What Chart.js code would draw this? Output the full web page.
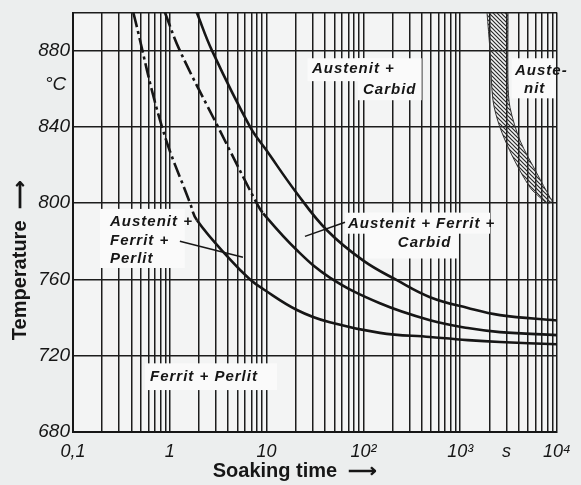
<!DOCTYPE html>
<html>
<head>
<meta charset="utf-8">
<script src="https://cdn.jsdelivr.net/npm/chart.js@4/dist/chart.umd.min.js"></script>
<style>
  body { margin: 0; background: #eceeee; }
  canvas { display: block; }
</style>
</head>
<body>
<canvas id="soakChart" width="581" height="485"></canvas>
<script>
// soaking time in s, temperature in °C
const timeA = [0.42, 0.83, 1.62, 1.91, 4.19, 6.75, 9.2, 20.6, 45, 148, 488, 1200, 2577, 10000];
const tempA = [900, 840, 800, 791, 770.5, 760, 755, 744, 737.5, 732, 729.8, 728.2, 727.2, 726];

const timeB = [0.89, 1.27, 3.15, 7.9, 9.2, 20.6, 45, 148, 488, 1200, 2577, 10000];
const tempB = [900, 880, 840, 800, 794.7, 775.3, 761, 747.5, 738.6, 734.5, 732.4, 730.8];

const timeC = [1.9, 2.73, 6.75, 10, 20.6, 42, 99, 222, 488, 1200, 2577, 10000];
const tempC = [900, 880, 840, 827.6, 805.1, 785.8, 770, 759.6, 750.7, 745, 741.3, 738.5];

// hatched austenite boundary band: left edge top->bottom, right edge bottom->top
const bandTime = [1892, 2032, 2182, 2578, 3510, 5255, 6670, 8070, 8870, 8470, 6210, 4150, 3270, 3120, 3120];
const bandTemp = [900, 880, 853.8, 839.7, 824, 808.3, 803, 799.9, 801.5, 803, 815.6, 832.9, 850.2, 862.7, 900];

const decades = [0.1, 1, 10, 100, 1000, 10000];
const decadeLabels = ['0,1', '1', '10', '10²', '10³', '10⁴'];
const minorSteps = [2, 3, 4, 5, 6, 7, 8, 9];
const yTicks = [680, 720, 760, 800, 840, 880, 900];

const xTicks = [];
decades.forEach((d, i) => {
  xTicks.push(d);
  if (i < decades.length - 1) minorSteps.forEach(m => xTicks.push(+(d * m).toPrecision(3)));
});

const zip = (xs, ys) => xs.map((x, i) => ({ x: x, y: ys[i] }));

// hatch pattern for the band
const hc = document.createElement('canvas');
hc.width = 4; hc.height = 4;
const hx = hc.getContext('2d');
hx.strokeStyle = '#2a2a2a';
hx.lineWidth = 1.2;
hx.beginPath();
hx.moveTo(-1, -1); hx.lineTo(5, 5);
hx.moveTo(3, -1); hx.lineTo(5, 1);
hx.moveTo(-1, 3); hx.lineTo(1, 5);
hx.stroke();
const hatch = hx.createPattern(hc, 'repeat');

const ink = '#161616';
const dashTop = limit => ({
  borderDash: c => (c.p0.parsed.y > limit ? [15, 4, 3, 4] : undefined)
});

// label boxes and texts, in data units (time, temp)
const boxes = [
  [0.19, 797, 1.43, 766],
  [0.555, 716, 12.8, 702],
  [26.5, 876, 227, 864],
  [87.5, 876, 400, 854],
  [3400, 876, 9700, 855],
  [64.6, 795, 2032, 784],
  [104, 795, 948, 771]
];
const texts = [
  ['Austenit +', 0.241, 790], ['Ferrit +', 0.241, 780.5], ['Perlit', 0.241, 771],
  ['Ferrit + Perlit', 0.624, 708.8],
  ['Austenit +', 29.4, 870.6], ['Carbid', 99, 859.6],
  ['Auste-', 3680, 869.5], ['nit', 4560, 860],
  ['Austenit + Ferrit +', 69.3, 789.4], ['Carbid', 227, 779]
];
const pointers = [
  [1.27, 780, 5.7, 771.6],
  [64.6, 790, 24.9, 782.6]
];

const notes = {
  id: 'notes',
  beforeDraw(chart) {
    const a = chart.chartArea, c = chart.ctx;
    c.save();
    c.fillStyle = '#f3f4f4';
    c.fillRect(a.left, a.top, a.right - a.left, a.bottom - a.top);
    c.restore();
  },
  beforeDatasetsDraw(chart) {
    const c = chart.ctx, sx = chart.scales.x, sy = chart.scales.y;
    c.save();
    c.fillStyle = '#fafafa';
    boxes.forEach(b => {
      const x1 = sx.getPixelForValue(b[0]), y1 = sy.getPixelForValue(b[1]);
      const x2 = sx.getPixelForValue(b[2]), y2 = sy.getPixelForValue(b[3]);
      c.fillRect(x1, y1, x2 - x1, y2 - y1);
    });
    c.restore();
  },
  afterDatasetsDraw(chart) {
    const c = chart.ctx, sx = chart.scales.x, sy = chart.scales.y;
    c.save();
    c.fillStyle = ink;
    c.font = 'italic bold 15px "Liberation Sans", Arial, sans-serif';
    c.letterSpacing = '1px';
    c.textAlign = 'left';
    c.textBaseline = 'middle';
    texts.forEach(t => c.fillText(t[0], sx.getPixelForValue(t[1]), sy.getPixelForValue(t[2])));
    c.strokeStyle = ink;
    c.lineWidth = 1.5;
    pointers.forEach(p => {
      c.beginPath();
      c.moveTo(sx.getPixelForValue(p[0]), sy.getPixelForValue(p[1]));
      c.lineTo(sx.getPixelForValue(p[2]), sy.getPixelForValue(p[3]));
      c.stroke();
    });
    c.restore();
  },
  afterDraw(chart) {
    const a = chart.chartArea, c = chart.ctx;
    c.save();
    c.fillStyle = ink;
    c.font = 'italic 19px "Liberation Sans", Arial, sans-serif';
    c.textAlign = 'left';
    c.textBaseline = 'middle';
    c.fillText('°C', a.left - 28, chart.scales.y.getPixelForValue(862));
    c.font = 'bold 20px "Liberation Sans", Arial, sans-serif';
    c.textAlign = 'center';
    c.textBaseline = 'alphabetic';
    c.fillText('Soaking time  ⟶', a.left + 222, a.bottom + 45);
    c.translate(26, (a.top + a.bottom) / 2 + 38);
    c.rotate(-Math.PI / 2);
    c.fillText('Temperature  ⟶', 0, 0);
    c.restore();
  }
};

const curve = (xs, ys, extra) => Object.assign({
  data: zip(xs, ys),
  showLine: true,
  borderColor: ink,
  borderWidth: 2.6,
  pointRadius: 0,
  tension: 0.4,
  fill: false
}, extra);

const gridStyle = { color: '#1c1c1c', lineWidth: 1.5, drawTicks: false };

new Chart(document.getElementById('soakChart'), {
  type: 'scatter',
  data: {
    datasets: [
      {
        data: zip(bandTime, bandTemp),
        showLine: true,
        borderColor: '#333',
        borderWidth: 1,
        backgroundColor: hatch,
        pointRadius: 0,
        tension: 0.3,
        fill: 'shape'
      },
      curve(timeA, tempA, { segment: dashTop(795) }),
      curve(timeB, tempB, { segment: dashTop(798) }),
      curve(timeC, tempC)
    ]
  },
  options: {
    responsive: false,
    animation: false,
    events: [],
    layout: { padding: { top: 8, right: 24, left: 0, bottom: 0 } },
    plugins: { legend: { display: false }, tooltip: { enabled: false } },
    scales: {
      x: {
        type: 'logarithmic',
        min: 0.1,
        max: 10000,
        afterBuildTicks: s => { s.ticks = xTicks.map(v => ({ value: v })); },
        afterFit: s => { s.height = 53; },
        grid: gridStyle,
        border: { color: ink, width: 2 },
        ticks: {
          autoSkip: false,
          maxRotation: 0,
          padding: 9,
          color: ink,
          font: { family: '"Liberation Sans", Arial, sans-serif', size: 18, style: 'italic' },
          callback: (v, i) => {
            const d = decades.indexOf(xTicks[i]);
            if (d >= 0) return decadeLabels[d];
            return xTicks[i] === 3000 ? 's' : '';
          }
        }
      },
      y: {
        min: 680,
        max: 900,
        afterBuildTicks: s => { s.ticks = yTicks.map(v => ({ value: v })); },
        afterFit: s => { s.width = 73; },
        grid: gridStyle,
        border: { color: ink, width: 2 },
        ticks: {
          padding: 3,
          color: ink,
          font: { family: '"Liberation Sans", Arial, sans-serif', size: 19, style: 'italic', lineHeight: 1 },
          callback: v => (v === 900 ? '' : v)
        }
      }
    }
  },
  plugins: [notes]
});
</script>
</body>
</html>
